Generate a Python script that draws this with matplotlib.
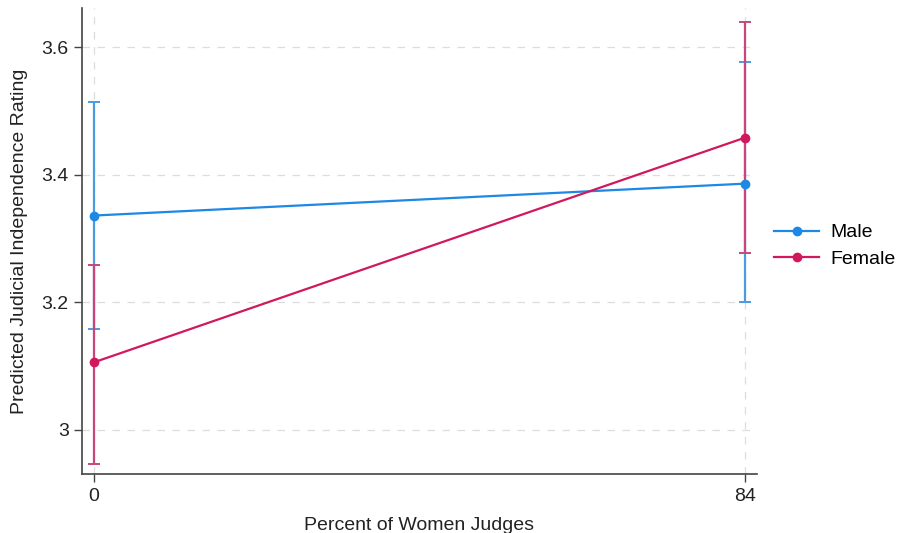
import matplotlib.pyplot as plt

# Predicted margins by percent of women judges
pct_women = [0, 84]
groups = ["Male", "Female"]
male_fit = [3.336, 3.386]
male_lo = [3.159, 3.200]
male_hi = [3.514, 3.577]
female_fit = [3.106, 3.458]
female_lo = [2.947, 3.277]
female_hi = [3.259, 3.639]

colors = {"Male": "#1E88E5", "Female": "#D1185E"}
ci_colors = {"Male": "#4A9BE0", "Female": "#C8467A"}

series = {
    "Male": (male_fit, male_lo, male_hi),
    "Female": (female_fit, female_lo, female_hi),
}

font = ["Liberation Sans", "DejaVu Sans"]

fig = plt.figure(figsize=(9, 5.33), dpi=100)
ax = fig.add_axes([0.091, 0.1107, 0.75, 0.874])

for g in groups:
    fit, lo, hi = series[g]
    err = [[f - l for f, l in zip(fit, lo)], [h - f for f, h in zip(fit, hi)]]
    ax.errorbar(pct_women, fit, yerr=err, fmt="none", ecolor=ci_colors[g],
                elinewidth=1.6, capsize=4, capthick=1.4, zorder=2)
    ax.plot(pct_women, fit, color=colors[g], marker="o", markersize=6,
            linewidth=1.6, label=g, zorder=3)

ax.set_xlim(-1.55, 85.55)
ax.set_ylim(2.931, 3.661)
ax.set_xticks(pct_women)
ax.set_yticks([3.0, 3.2, 3.4, 3.6])
ax.set_yticklabels(["3", "3.2", "3.4", "3.6"])

ax.grid(True, color="#dddddd", linestyle=(0, (6, 6)), linewidth=0.9)
ax.set_axisbelow(True)
for side in ["top", "right"]:
    ax.spines[side].set_visible(False)
for side in ["left", "bottom"]:
    ax.spines[side].set_color("#444444")
    ax.spines[side].set_linewidth(1.2)

ax.tick_params(axis="both", direction="out", length=6, width=1.0,
               color="#444444", labelcolor="#222222")
ax.tick_params(axis="x", pad=4)
for lbl in ax.get_xticklabels() + ax.get_yticklabels():
    lbl.set_family(font)
    lbl.set_fontsize(14)

ax.set_ylabel("Predicted Judicial Independence Rating", fontsize=14,
              family=font, color="#222222", labelpad=10)
ax.set_xlabel("Percent of Women Judges", fontsize=14,
              family=font, color="#222222", labelpad=9)

leg = ax.legend(loc="center left", bbox_to_anchor=(1.0, 0.49), frameon=False,
                prop={"family": font, "size": 14},
                handlelength=2.3, handletextpad=0.6, labelspacing=0.45)

fig.savefig("out.png", dpi=100)
